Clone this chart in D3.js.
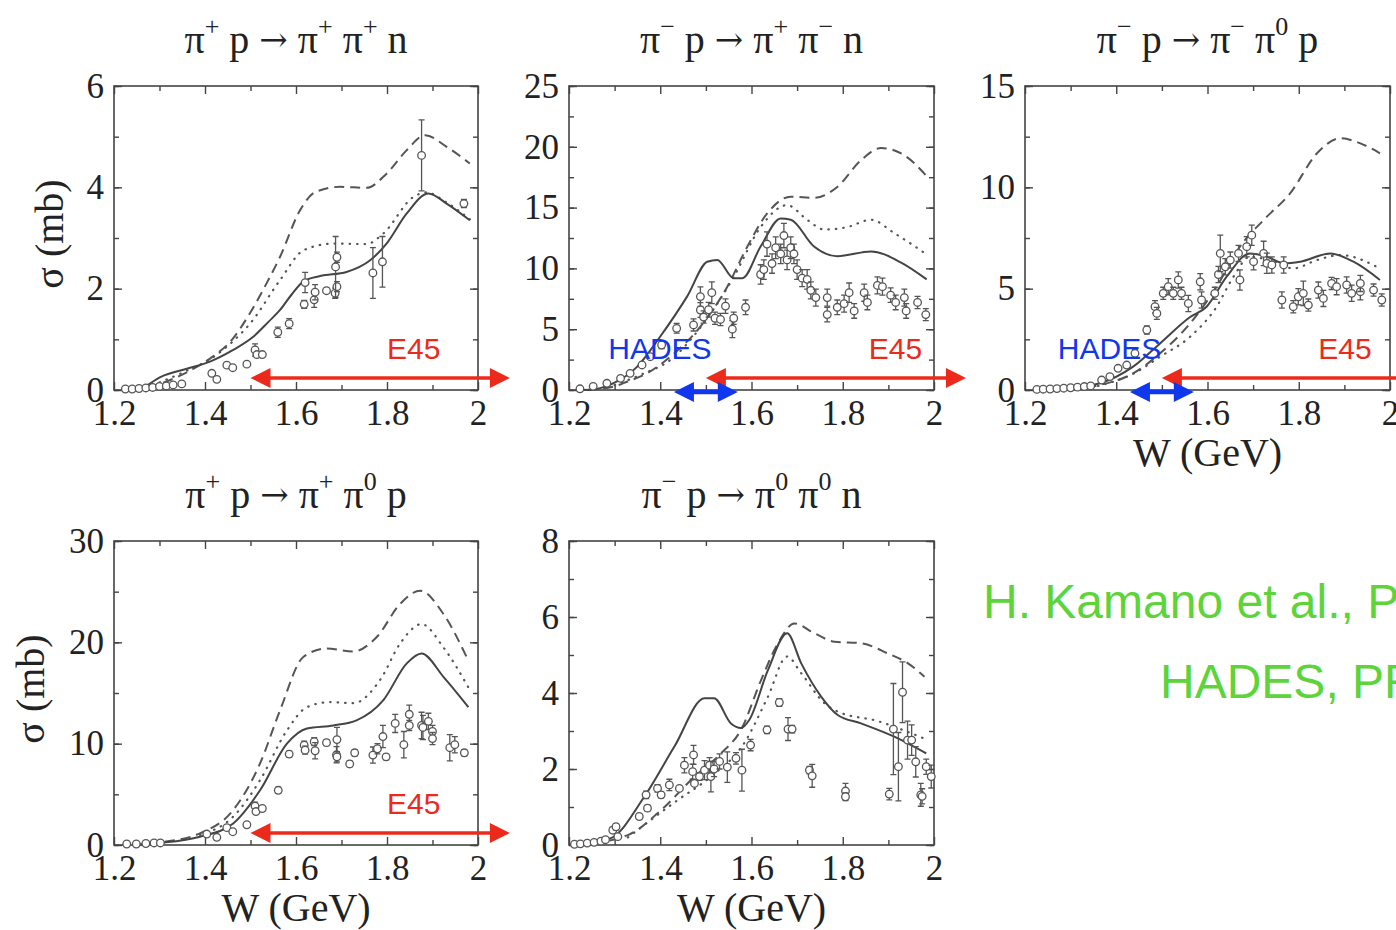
<!DOCTYPE html>
<html>
<head>
<meta charset="utf-8">
<script src="https://cdn.jsdelivr.net/npm/d3@7"></script>
<style>
  body { margin: 0; background: #fff; }
  svg text { font-family: "Liberation Serif", "Times New Roman", serif; fill: #222; }
  .axis text { font-size: 35px; fill: #222; }
  .axis line { stroke: #444; stroke-width: 1.4; }
  .note { font-family: "Liberation Sans", Arial, sans-serif !important; }
  .arr { font-family: "DejaVu Serif", "Liberation Serif", serif !important; }
</style>
</head>
<body>
<div id="chart"></div>
<script>
// curves: [W (GeV), sigma (mb)], data: [W, sigma, error]
var r1_solid = [[1.22,0],[1.257,0.03],[1.303,0.26],[1.36,0.42],[1.411,0.56],[1.46,0.78],[1.506,1.05],[1.54,1.35],[1.565,1.58],[1.59,1.88],[1.617,2.15],[1.653,2.25],[1.711,2.33],[1.763,2.56],[1.799,2.89],[1.843,3.48],[1.891,3.88],[1.931,3.68],[1.982,3.35]];
var r1_dashed = [[1.24,0],[1.30,0.12],[1.36,0.35],[1.411,0.62],[1.46,1.0],[1.499,1.52],[1.535,2.1],[1.565,2.63],[1.609,3.55],[1.643,3.91],[1.697,4.01],[1.755,3.99],[1.799,4.27],[1.843,4.73],[1.884,5.03],[1.931,4.80],[1.982,4.47]];
var r1_dotted = [[1.30,0.15],[1.36,0.38],[1.42,0.66],[1.46,0.95],[1.499,1.31],[1.565,2.17],[1.617,2.76],[1.683,2.89],[1.755,2.88],[1.792,3.09],[1.858,3.81],[1.887,3.9],[1.931,3.70],[1.982,3.37]];
var r1_data = [[1.225,0.02,0],[1.24,0.02,0],[1.255,0.03,0],[1.27,0.04,0],[1.285,0.05,0],[1.30,0.07,0],[1.315,0.08,0],[1.33,0.1,0],[1.349,0.12,0],[1.415,0.33,0],[1.426,0.21,0],[1.448,0.49,0.05],[1.461,0.44,0],[1.492,0.51,0],[1.510,0.79,0.12],[1.514,0.70,0],[1.526,0.70,0],[1.560,1.14,0.1],[1.585,1.31,0.1],[1.618,1.69,0.08],[1.620,2.12,0.2],[1.640,1.78,0.15],[1.642,1.93,0.15],[1.667,1.96,0.05],[1.686,1.91,0.1],[1.690,2.04,0.1],[1.687,2.43,0.6],[1.690,2.62,0.1],[1.769,2.31,0.5],[1.790,2.53,0.5],[1.876,4.63,0.7],[1.969,3.68,0.08]];

var r2_solid = [[1.22,0],[1.253,0.05],[1.30,0.6],[1.349,1.9],[1.400,4.4],[1.459,7.7],[1.503,10.55],[1.525,10.7],[1.561,9.2],[1.580,9.2],[1.620,11.8],[1.664,14.1],[1.686,14.0],[1.737,11.8],[1.788,11.0],[1.862,11.4],[1.927,10.5],[1.984,9.1]];
var r2_dashed = [[1.24,0],[1.30,0.3],[1.327,0.68],[1.371,1.37],[1.422,2.74],[1.488,5.21],[1.547,8.5],[1.591,11.8],[1.634,14.5],[1.686,15.9],[1.737,15.8],[1.788,16.7],[1.840,18.9],[1.884,19.9],[1.935,19.3],[1.986,17.5]];
var r2_dotted = [[1.30,0.4],[1.36,1.3],[1.422,2.47],[1.495,5.48],[1.561,9.3],[1.620,13.4],[1.678,15.2],[1.722,14.0],[1.759,13.2],[1.810,13.4],[1.862,14.0],[1.913,12.9],[1.986,11.1]];
var r2_data = [[1.224,0.1,0],[1.253,0.3,0],[1.283,0.55,0],[1.313,0.96,0],[1.334,1.37,0],[1.360,2.06,0.2],[1.378,2.74,0.2],[1.403,3.7,0.3],[1.436,5.07,0.4],[1.473,5.35,0.5],[1.488,7.68,0.8],[1.488,6.58,0.6],[1.495,6.0,0.5],[1.506,6.6,0.6],[1.513,8.0,0.9],[1.52,5.9,0.5],[1.532,5.8,0.5],[1.543,6.9,0.6],[1.558,5.0,0.7],[1.561,5.9,0.5],[1.587,6.8,0.6],[1.62,9.5,0.8],[1.627,9.9,0.8],[1.634,12.0,1.0],[1.645,10.4,0.8],[1.653,11.7,0.9],[1.664,11.2,0.8],[1.671,12.7,1.0],[1.678,10.7,0.8],[1.686,11.7,0.9],[1.693,11.2,0.8],[1.700,9.9,0.8],[1.711,9.2,0.7],[1.722,9.1,0.8],[1.730,8.2,0.7],[1.741,7.6,0.7],[1.766,7.6,0.7],[1.766,6.2,0.6],[1.788,6.8,0.6],[1.803,7.1,0.7],[1.814,8.0,0.8],[1.825,6.5,0.6],[1.847,8.0,0.7],[1.854,7.2,0.6],[1.876,8.6,0.7],[1.887,8.5,0.7],[1.905,7.8,0.6],[1.916,7.2,0.6],[1.935,7.6,0.7],[1.939,6.5,0.6],[1.964,7.2,0.5],[1.982,6.2,0.5]];

var r3_solid = [[1.226,0.05],[1.30,0.12],[1.364,0.33],[1.437,1.15],[1.496,2.3],[1.562,3.6],[1.598,4.11],[1.642,5.59],[1.693,6.74],[1.730,6.58],[1.767,6.25],[1.803,6.33],[1.869,6.74],[1.920,6.33],[1.978,5.43]];
var r3_dashed = [[1.30,0.05],[1.364,0.25],[1.437,0.82],[1.496,1.81],[1.562,3.29],[1.620,5.1],[1.671,7.07],[1.723,8.39],[1.781,9.7],[1.840,11.68],[1.891,12.42],[1.935,12.17],[1.978,11.68]];
var r3_dotted = [[1.36,0.2],[1.437,0.8],[1.496,1.64],[1.562,2.63],[1.620,4.11],[1.657,5.59],[1.693,6.58],[1.745,6.33],[1.788,6.0],[1.840,6.41],[1.891,6.66],[1.978,6.0]];
var r3_data = [[1.226,0.03,0],[1.24,0.04,0],[1.255,0.05,0],[1.27,0.07,0],[1.285,0.09,0],[1.30,0.11,0],[1.315,0.14,0],[1.33,0.17,0],[1.344,0.2,0],[1.368,0.49,0],[1.386,0.66,0],[1.404,1.07,0.1],[1.423,1.23,0],[1.441,1.81,0.2],[1.467,2.96,0.2],[1.485,4.11,0.3],[1.489,3.78,0.3],[1.503,4.77,0.3],[1.514,5.1,0.4],[1.525,4.77,0.3],[1.536,5.43,0.4],[1.543,4.77,0.3],[1.558,4.27,0.4],[1.584,5.34,0.4],[1.587,4.44,0.4],[1.616,4.77,0.3],[1.624,5.7,0.4],[1.628,6.74,0.9],[1.639,6.08,0.4],[1.650,6.41,0.4],[1.668,6.74,0.4],[1.671,5.43,0.5],[1.686,7.07,0.5],[1.697,7.64,0.5],[1.701,6.33,0.4],[1.723,6.74,0.6],[1.730,6.25,0.5],[1.741,6.17,0.4],[1.767,6.17,0.4],[1.763,4.44,0.4],[1.788,4.11,0.3],[1.799,4.6,0.4],[1.810,4.77,0.6],[1.821,4.19,0.3],[1.843,4.93,0.4],[1.854,4.52,0.4],[1.872,5.26,0.3],[1.883,5.1,0.4],[1.905,5.18,0.4],[1.916,4.77,0.4],[1.935,4.85,0.4],[1.935,5.26,0.4],[1.964,4.93,0.3],[1.982,4.44,0.3]];

var r4_solid = [[1.242,0],[1.30,0.2],[1.389,0.82],[1.462,2.13],[1.521,5.4],[1.580,10.0],[1.624,11.5],[1.682,11.8],[1.733,12.3],[1.792,14.3],[1.843,17.9],[1.876,18.9],[1.924,16.6],[1.979,13.6]];
var r4_dashed = [[1.242,0],[1.30,0.25],[1.389,1.15],[1.462,3.45],[1.521,8.05],[1.565,13.3],[1.616,18.55],[1.667,19.4],[1.726,19.1],[1.777,20.5],[1.829,23.8],[1.873,25.1],[1.924,22.8],[1.975,18.55]];
var r4_dotted = [[1.389,1.0],[1.462,2.8],[1.521,6.4],[1.580,11.3],[1.624,13.6],[1.675,14.1],[1.726,14.0],[1.785,16.3],[1.829,19.9],[1.876,21.8],[1.924,19.5],[1.982,15.3]];
var r4_data = [[1.228,0.1,0],[1.249,0.1,0],[1.27,0.15,0],[1.288,0.2,0],[1.302,0.2,0],[1.404,1.08,0],[1.426,0.76,0],[1.448,1.71,0],[1.461,1.31,0],[1.492,2.0,0],[1.51,3.84,0.4],[1.512,3.3,0],[1.526,3.6,0],[1.561,5.4,0.3],[1.585,8.97,0.3],[1.618,9.85,0.4],[1.620,9.36,0.4],[1.640,10.2,0.4],[1.642,9.3,0.8],[1.667,10.1,0.3],[1.690,10.4,1.2],[1.689,8.9,0.8],[1.690,8.7,0.5],[1.718,8.0,0.3],[1.729,9.1,0.3],[1.769,8.87,0.8],[1.779,9.5,0.5],[1.791,10.7,1.1],[1.798,8.7,0.3],[1.818,12.0,0.9],[1.837,9.9,1.3],[1.849,12.9,0.9],[1.849,11.8,0.5],[1.876,11.8,1.3],[1.879,11.6,1.2],[1.891,12.2,0.8],[1.9,11.2,0.6],[1.9,10.5,0.6],[1.938,9.6,1.3],[1.949,9.9,0.8],[1.97,9.1,0.3]];

var r5_solid = [[1.219,0],[1.292,0.18],[1.365,1.27],[1.431,2.59],[1.497,3.86],[1.518,3.86],[1.555,3.2],[1.577,3.08],[1.595,3.29],[1.636,4.6],[1.678,5.57],[1.709,4.78],[1.753,3.9],[1.789,3.42],[1.840,3.2],[1.913,2.85],[1.983,2.41]];
var r5_dashed = [[1.219,0],[1.329,0.26],[1.402,0.92],[1.475,1.8],[1.533,2.41],[1.577,3.03],[1.621,4.34],[1.658,5.31],[1.694,5.83],[1.738,5.57],[1.782,5.35],[1.840,5.31],[1.899,5.04],[1.943,4.78],[1.979,4.43]];
var r5_dotted = [[1.329,0.2],[1.438,1.18],[1.511,1.8],[1.584,2.68],[1.636,3.9],[1.678,4.96],[1.709,4.52],[1.760,3.73],[1.789,3.51],[1.877,3.26],[1.950,2.94],[1.987,2.76]];
var r5_data = [[1.212,0.02,0],[1.225,0.03,0],[1.24,0.05,0],[1.255,0.07,0],[1.27,0.1,0],[1.28,0.14,0],[1.296,0.39,0.08],[1.303,0.48,0.08],[1.307,0.22,0.05],[1.354,0.75,0.06],[1.372,0.97,0.08],[1.369,1.32,0.1],[1.394,1.49,0.1],[1.402,1.32,0.08],[1.420,1.58,0.15],[1.442,1.49,0],[1.453,2.1,0.2],[1.471,1.93,0.2],[1.473,2.37,0.25],[1.475,1.62,0],[1.486,1.8,0.1],[1.497,1.97,0.25],[1.508,2.1,0.2],[1.511,1.8,0.4],[1.518,2.0,0.2],[1.53,2.2,0.2],[1.547,2.05,0.4],[1.566,2.28,0.15],[1.579,1.97,0.55],[1.598,2.63,0.15],[1.634,3.03,0.1],[1.661,3.75,0.1],[1.680,3.05,0.3],[1.689,3.05,0.1],[1.727,1.97,0.1],[1.733,1.82,0.3],[1.806,1.42,0.2],[1.806,1.27,0.1],[1.902,1.34,0.15],[1.911,3.05,1.2],[1.922,2.06,0.9],[1.931,4.02,0.8],[1.942,2.76,0.5],[1.951,2.76,0.4],[1.96,2.19,0.4],[1.971,1.32,0.3],[1.974,1.28,0.2],[1.983,2.06,0.2],[1.994,1.8,0.3]];

// reaction titles, "^x" is a superscript, "→" gets its own font
var titles = ["π^+ p → π^+ π^+ n", "π^− p → π^+ π^− n", "π^− p → π^− π^0 p", "π^+ p → π^+ π^0 p", "π^− p → π^0 π^0 n"];
var y_max = [6, 25, 15, 30, 8];
var y_major = [2, 5, 5, 10, 2];
var y_minor = [1, 2.5, 2.5, 5, 1];
var x_major = [1.2, 1.4, 1.6, 1.8, 2];
var x_minor = [1.3, 1.5, 1.7, 1.9];
var e45_range = [1.5, 2.07];
var hades_range = [1.43, 1.57];
var refs = ["H. Kamano et al., PRC 94, 015201 (2016)", "HADES, PRC 102, 024001 (2020)"];

var boxes = [
  { left: 114, right: 478, top: 86, bottom: 390, ylab: 63, xlab: false, hades: null, e45: 1.80 },
  { left: 569, right: 934, top: 86, bottom: 390, ylab: null, xlab: false, hades: 1.286, e45: 1.857 },
  { left: 1025, right: 1390, top: 86, bottom: 390, ylab: null, xlab: true, hades: 1.272, e45: 1.843 },
  { left: 114, right: 478, top: 541, bottom: 845, ylab: 44, xlab: true, hades: null, e45: 1.80 },
  { left: 569, right: 934, top: 541, bottom: 845, ylab: null, xlab: true, hades: null, e45: null },
];
var series = [
  [r1_solid, r1_dashed, r1_dotted, r1_data],
  [r2_solid, r2_dashed, r2_dotted, r2_data],
  [r3_solid, r3_dashed, r3_dotted, r3_data],
  [r4_solid, r4_dashed, r4_dotted, r4_data],
  [r5_solid, r5_dashed, r5_dotted, r5_data],
];

var red = "#ec2a1c", blue = "#1037ee", green = "#5cd43a", ink = "#444";

var svg = d3.select("#chart").append("svg")
  .attr("width", 1396).attr("height", 930)
  .style("background", "#fff");

function noDomain(g) { g.select(".domain").remove(); }

function arrow(g, xa, xb, yy, color, lw) {
  var h = 20, w = 10;
  g.append("line")
    .attr("x1", xa + h - 2).attr("x2", xb - h + 2)
    .attr("y1", yy).attr("y2", yy)
    .attr("stroke", color).attr("stroke-width", lw);
  g.append("path").attr("d", `M${xa},${yy}L${xa + h},${yy - w}L${xa + h},${yy + w}Z`).attr("fill", color);
  g.append("path").attr("d", `M${xb},${yy}L${xb - h},${yy - w}L${xb - h},${yy + w}Z`).attr("fill", color);
}

boxes.forEach(function (b, i) {
  var x = d3.scaleLinear().domain([1.2, 2]).range([b.left, b.right]);
  var y = d3.scaleLinear().domain([0, y_max[i]]).range([b.bottom, b.top]);
  var g = svg.append("g");
  var majors = d3.range(0, y_max[i] + 1e-6, y_major[i]);
  var minors = d3.range(0, y_max[i] + 1e-6, y_minor[i]);

  // ticks on all four sides, pointing in
  g.append("g").attr("class", "axis").attr("transform", `translate(0,${b.bottom})`)
    .call(d3.axisBottom(x).tickValues(x_minor).tickSize(-5).tickFormat("")).call(noDomain);
  g.append("g").attr("class", "axis").attr("transform", `translate(0,${b.bottom})`)
    .call(d3.axisBottom(x).tickValues(x_major).tickSize(-8).tickPadding(10).tickFormat(d3.format(""))).call(noDomain);
  g.append("g").attr("class", "axis").attr("transform", `translate(0,${b.top})`)
    .call(d3.axisTop(x).tickValues(x_minor).tickSize(-5).tickFormat("")).call(noDomain);
  g.append("g").attr("class", "axis").attr("transform", `translate(0,${b.top})`)
    .call(d3.axisTop(x).tickValues(x_major).tickSize(-8).tickFormat("")).call(noDomain);
  g.append("g").attr("class", "axis").attr("transform", `translate(${b.left},0)`)
    .call(d3.axisLeft(y).tickValues(minors).tickSize(-5).tickFormat("")).call(noDomain);
  g.append("g").attr("class", "axis").attr("transform", `translate(${b.left},0)`)
    .call(d3.axisLeft(y).tickValues(majors).tickSize(-8).tickPadding(10).tickFormat(d3.format(""))).call(noDomain);
  g.append("g").attr("class", "axis").attr("transform", `translate(${b.right},0)`)
    .call(d3.axisRight(y).tickValues(minors).tickSize(-5).tickFormat("")).call(noDomain);
  g.append("g").attr("class", "axis").attr("transform", `translate(${b.right},0)`)
    .call(d3.axisRight(y).tickValues(majors).tickSize(-8).tickFormat("")).call(noDomain);

  g.append("rect")
    .attr("x", b.left).attr("y", b.top)
    .attr("width", b.right - b.left).attr("height", b.bottom - b.top)
    .attr("fill", "none").attr("stroke", ink).attr("stroke-width", 1.6);

  var line = d3.line().x((d) => x(d[0])).y((d) => y(d[1])).curve(d3.curveMonotoneX);
  var s = series[i];

  g.append("path").datum(s[1]).attr("d", line)
    .attr("fill", "none").attr("stroke", "#555").attr("stroke-width", 2)
    .attr("stroke-dasharray", "10,6");
  g.append("path").datum(s[2]).attr("d", line)
    .attr("fill", "none").attr("stroke", "#555").attr("stroke-width", 2.2)
    .attr("stroke-linecap", "round").attr("stroke-dasharray", "0.5,7");
  g.append("path").datum(s[0]).attr("d", line)
    .attr("fill", "none").attr("stroke", "#444").attr("stroke-width", 2);

  // data with error bars
  var pts = g.selectAll(".pt").data(s[3]).enter().append("g");
  pts.filter((d) => d[2] > 0).append("path")
    .attr("d", (d) => {
      var xx = x(d[0]), ya = y(d[1] - d[2]), yb = y(d[1] + d[2]);
      return `M${xx},${ya}V${yb}M${xx - 3},${ya}H${xx + 3}M${xx - 3},${yb}H${xx + 3}`;
    })
    .attr("fill", "none").attr("stroke", "#555").attr("stroke-width", 1.3);
  pts.append("circle")
    .attr("cx", (d) => x(d[0])).attr("cy", (d) => y(d[1]))
    .attr("r", 3.8)
    .attr("fill", "#fff").attr("stroke", "#555").attr("stroke-width", 1.3);

  // title
  var t = svg.append("text")
    .attr("x", (b.left + b.right) / 2).attr("y", b.top - 33)
    .attr("text-anchor", "middle").attr("font-size", "40px");
  var shift = 0;
  titles[i].split(/(\^.|→)/).forEach(function (part) {
    if (!part) return;
    if (part[0] === "^") {
      t.append("tspan").attr("dy", -18).attr("font-size", "26px").text(part[1]);
      shift = 18;
    } else if (part === "→") {
      t.append("tspan").attr("class", "arr").attr("dy", shift - 2)
        .attr("font-size", "34px").attr("textLength", 38).text("→");
      shift = 2;
    } else {
      t.append("tspan").attr("dy", shift).text(part);
      shift = 0;
    }
  });

  if (b.ylab !== null) {
    svg.append("text")
      .attr("transform", `translate(${b.ylab},${(b.top + b.bottom) / 2 - 4}) rotate(-90)`)
      .attr("text-anchor", "middle").attr("font-size", "40px")
      .text("σ (mb)");
  }
  if (b.xlab) {
    svg.append("text")
      .attr("x", (b.left + b.right) / 2).attr("y", b.bottom + 76)
      .attr("text-anchor", "middle").attr("font-size", "40px")
      .text("W (GeV)");
  }

  // beam energy ranges
  if (b.e45 !== null) {
    arrow(svg, x(e45_range[0]), x(e45_range[1]), b.bottom - 12, red, 3.5);
    svg.append("text").attr("class", "note")
      .attr("x", x(b.e45)).attr("y", b.bottom - 31)
      .attr("font-size", "30px").style("fill", red)
      .text("E45");
  }
  if (b.hades !== null) {
    arrow(svg, x(hades_range[0]), x(hades_range[1]), b.bottom + 2, blue, 4.5);
    svg.append("text").attr("class", "note")
      .attr("x", x(b.hades)).attr("y", b.bottom - 31)
      .attr("font-size", "30px").style("fill", blue)
      .text("HADES");
  }
});

svg.append("text").attr("class", "note")
  .attr("x", 983).attr("y", 618).attr("font-size", "48px").style("fill", green)
  .text(refs[0]);
svg.append("text").attr("class", "note")
  .attr("x", 1160).attr("y", 698).attr("font-size", "48px").style("fill", green)
  .text(refs[1]);
</script>
</body>
</html>
